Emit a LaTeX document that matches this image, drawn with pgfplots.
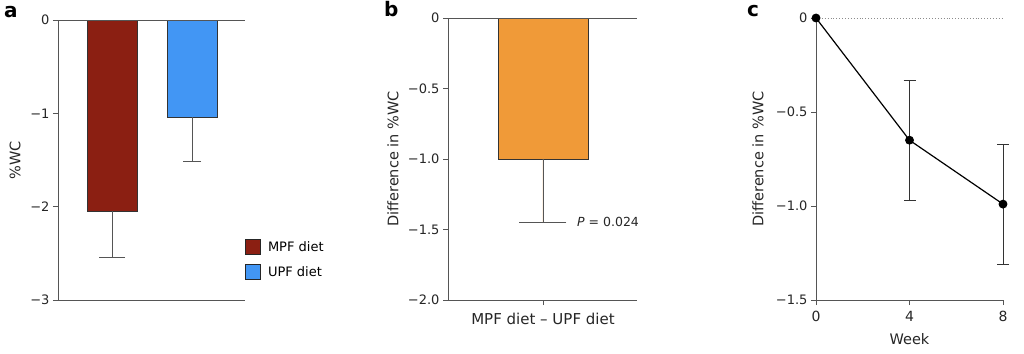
\documentclass[border=0pt]{standalone}
\usepackage{fontspec}
\setmainfont{DejaVu Sans}
\usepackage{pgfplots}
\pgfplotsset{compat=1.18}
\definecolor{mpf}{HTML}{8B1F12}
\definecolor{upf}{HTML}{4296F4}
\definecolor{orng}{HTML}{F09A38}
\definecolor{axg}{HTML}{555555}
\begin{document}
\begin{tikzpicture}
\useasboundingbox (0pt,0pt) rectangle (1024pt,353pt);
\pgfplotsset{
 common/.style={
  scale only axis, clip=false,
  axis x line*=bottom, axis y line*=left,
  axis line style={draw=axg, line width=0.9pt, -},
  tick align=outside, major tick length=5pt,
  tick style={draw=axg, line width=0.9pt},
  ticklabel style={font=\fontsize{13}{15}\selectfont, text=black!85},
  label style={font=\fontsize{14.5}{17}\selectfont, text=black!85},
 }
}
% panel a
\begin{axis}[common, at={(58pt,53pt)}, anchor=south west,
  width=187pt, height=280pt,
  xmin=-0.675, xmax=1.6625, ymin=-3, ymax=0,
  xtick=\empty, ytick={-3,-2,-1,0}, yticklabels={−3,−2,−1,0},
  ylabel={\%WC},
  ylabel style={at={([xshift=-43pt]rel axis cs:0,0.5)}, rotate=0, anchor=center},
  legend style={at={(rel axis cs:1,0.218)}, anchor=north west, draw=none, fill=none,
    inner sep=0pt, row sep=9pt, font=\fontsize{13}{15}\selectfont,
    nodes={inner sep=2pt},
    /tikz/every odd column/.append style={column sep=5pt}},
  legend cell align=left,
]
\addplot[ybar, bar width=50pt, bar shift=0pt, fill=mpf, draw=black!80, line width=0.7pt,
  legend image code/.code={\draw[fill=mpf, draw=black!85, line width=0.8pt] (0pt,-7.5pt) rectangle (15pt,7.5pt);},
  error bars/.cd, y dir=minus, y explicit, error mark=|,
  error bar style={draw=axg, line width=0.9pt},
  error mark options={draw=axg, line width=0.9pt, mark size=13pt}]
  coordinates {(0,-2.05) +- (0,0.49)};
\addlegendentry{MPF diet}
\addplot[ybar, bar width=50pt, bar shift=0pt, fill=upf, draw=black!80, line width=0.7pt,
  legend image code/.code={\draw[fill=upf, draw=black!85, line width=0.8pt] (0pt,-7.5pt) rectangle (15pt,7.5pt);},
  error bars/.cd, y dir=minus, y explicit, error mark=|,
  error bar style={draw=axg, line width=0.9pt},
  error mark options={draw=axg, line width=0.9pt, mark size=9pt}]
  coordinates {(1,-1.04) +- (0,0.48)};
\addlegendentry{UPF diet}
\draw[axg, line width=0.9pt] (rel axis cs:0,1) -- (rel axis cs:1,1);
\end{axis}
% panel b
\begin{axis}[common, at={(448pt,53pt)}, anchor=south west,
  width=189pt, height=282pt,
  xmin=-0.5026, xmax=0.4974, ymin=-2, ymax=0,
  xtick={0}, xticklabels={MPF diet – UPF diet},
  xticklabel style={font=\fontsize{15}{17}\selectfont, yshift=-5pt},
  ytick={-2,-1.5,-1,-0.5,0}, yticklabels={−2.0,−1.5,−1.0,−0.5,0},
  ylabel={Difference in \%WC},
  ylabel style={at={([xshift=-55pt]rel axis cs:0,0.5)}, rotate=0, anchor=center},
]
\addplot[ybar, bar width=90pt, bar shift=0pt, fill=orng, draw=black!80, line width=0.7pt,
  error bars/.cd, y dir=minus, y explicit, error mark=|,
  error bar style={draw=axg, line width=0.9pt},
  error mark options={draw=axg, line width=0.9pt, mark size=23.5pt}]
  coordinates {(0,-1.0) +- (0,0.447)};
\draw[axg, line width=0.9pt] (rel axis cs:0,1) -- (rel axis cs:1,1);
\node[anchor=west, font=\fontsize{12.5}{15}\selectfont, text=black!85, inner sep=0pt] at (axis cs:0.18,-1.447) {\textit{P} = 0.024};
\end{axis}
% panel c
\begin{axis}[common, at={(816pt,53pt)}, anchor=south west,
  width=187pt, height=282pt,
  xmin=0, xmax=8, ymin=-1.5, ymax=0,
  xtick={0,4,8}, xticklabels={0,4,8},
  xticklabel style={font=\fontsize{14}{15}\selectfont, yshift=-3pt},
  ytick={-1.5,-1,-0.5,0}, yticklabels={−1.5,−1.0,−0.5,0},
  xlabel={Week}, ylabel={Difference in \%WC},
  ylabel style={at={([xshift=-58pt]rel axis cs:0,0.5)}, rotate=0, anchor=center},
  xlabel style={at={([yshift=-39pt]rel axis cs:0.5,0)}, anchor=center},
]
\draw[black!45, dotted, line width=0.9pt] (axis cs:0,0) -- (axis cs:8,0);
\addplot[draw=none, mark=none, forget plot,
  error bars/.cd, y dir=both, y explicit, error mark=|,
  error bar style={draw=black!80, line width=0.8pt},
  error mark options={draw=black!80, line width=0.8pt, mark size=6pt}]
  coordinates {(4,-0.65) +- (0,0.32) (8,-0.99) +- (0,0.32)};
\addplot[black, line width=1.2pt, mark=*, mark size=3.8pt, mark options={fill=black}]
  coordinates {(0,0) (4,-0.65) (8,-0.99)};
\end{axis}
\node[anchor=base west, font=\bfseries\fontsize{20}{22}\selectfont, inner sep=0pt] at (4pt,335pt) {a};
\node[anchor=base west, font=\bfseries\fontsize{20}{22}\selectfont, inner sep=0pt] at (384pt,336pt) {b};
\node[anchor=base west, font=\bfseries\fontsize{20}{22}\selectfont, inner sep=0pt] at (747pt,336pt) {c};
\end{tikzpicture}
\end{document}
